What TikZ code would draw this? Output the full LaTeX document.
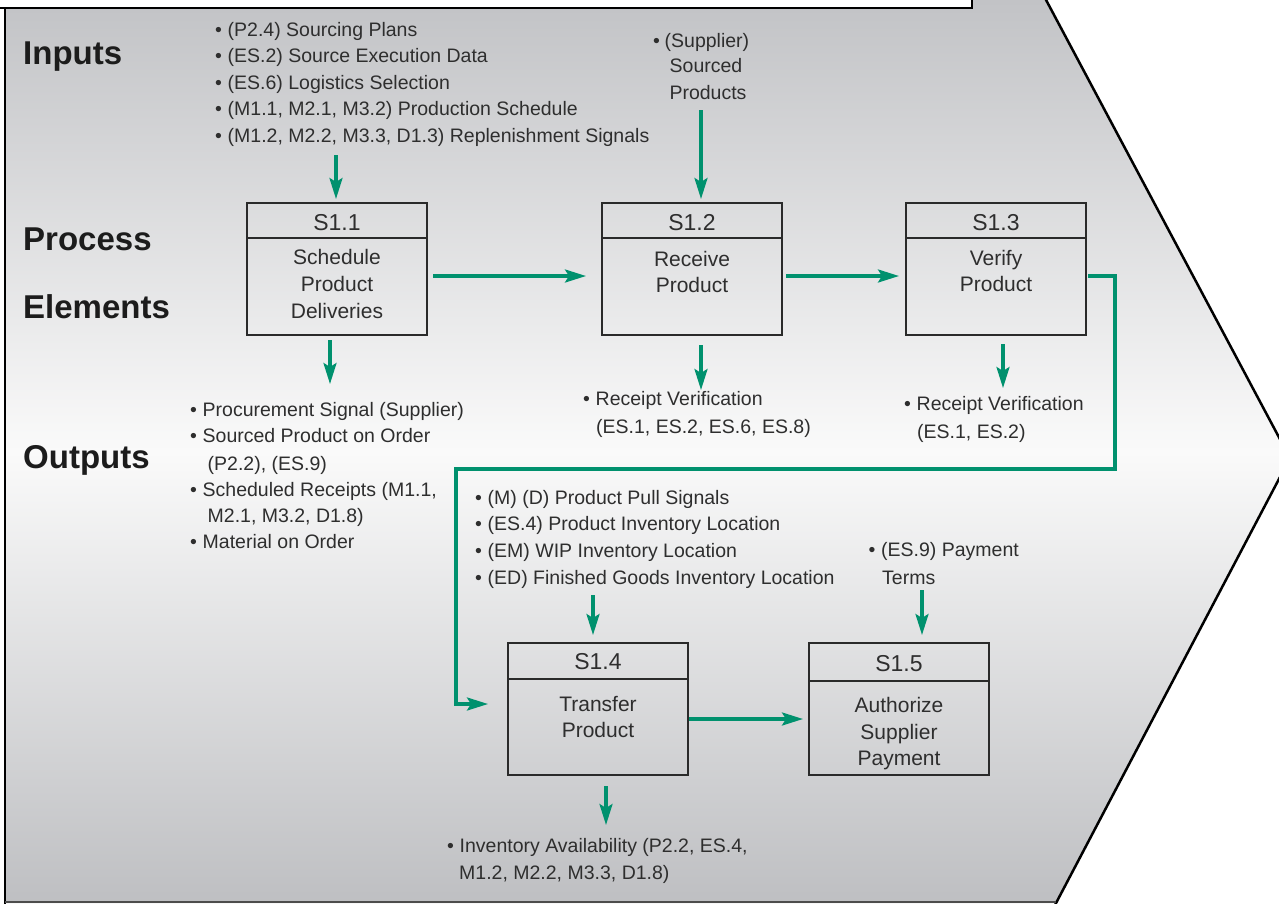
\documentclass[tikz,border=0pt]{standalone}
\usepackage{fontspec}
\setmainfont{Liberation Sans}
\usetikzlibrary{arrows.meta,calc}
\definecolor{sgreen}{HTML}{00916E}
\definecolor{txt}{HTML}{2E2E2E}
\definecolor{headc}{HTML}{1C1C1C}
\definecolor{boxc}{HTML}{2A2A2A}
\definecolor{bgtop}{HTML}{C2C3C6}
\definecolor{bgmid}{HTML}{FAFAFA}
\definecolor{bgbot}{HTML}{BEBFC2}
\newcommand{\bul}{\makebox[12.5pt][l]{\textbullet}}
\begin{document}
\begin{tikzpicture}[x=1pt,y=-1pt,
  flow/.style={draw=sgreen, line width=3.2pt, -{Stealth[length=21pt,width=13pt,inset=4pt]}},
  boxframe/.style={draw=boxc, line width=2.6pt, minimum width=180pt, minimum height=132pt, inner sep=0pt, outer sep=0pt, anchor=north west},
  divline/.style={draw=boxc, line width=2.6pt},
  head/.style={font=\fontsize{33}{38}\selectfont\bfseries, text=headc, anchor=base west, inner sep=0pt},
  lt/.style={font=\fontsize{19.5}{26}\selectfont, text=txt, anchor=base west, inner sep=0pt},
  ltc/.style={font=\fontsize{19.5}{26}\selectfont, text=txt, anchor=base, inner sep=0pt},
  hdr/.style={font=\fontsize{23}{28}\selectfont, text=txt, anchor=base, inner sep=0pt},
  bod/.style={font=\fontsize{21}{27}\selectfont, text=txt, anchor=base, inner sep=0pt}]
\useasboundingbox (0,0) rectangle (1279,903);
% background chevron
\shade[top color=bgtop, bottom color=bgbot, middle color=bgmid]
  (5,0) -- (1045,0) -- (1290,458) -- (1055,903) -- (5,903) -- cycle;
\draw[line width=2.5pt, black] (5,8) -- (5,904);
\draw[line width=2.5pt, black] (1045,-2) -- (1290,458) -- (1055,905);
\draw[line width=2pt, black!70] (5,902) -- (1056,902);
\draw[fill=white, draw=black, line width=2pt] (-3,-3) rectangle (972,8);

% headings
\node[head] (hin) at (23,64) {Inputs};
\node[head] (hpr) at (23,250) {Process};
\node[head] (hel) at (23,318) {Elements};
\node[head] (hout) at (23,468) {Outputs};

% boxes
\node[boxframe] (b11) at (247,203) {};
\node[boxframe] (b12) at (602,203) {};
\node[boxframe] (b13) at (906,203) {};
\node[boxframe] (b14) at (508,643) {};
\node[boxframe] (b15) at (809,643) {};
\draw[divline] ([yshift=-35pt]b11.north west) -- ([yshift=-35pt]b11.north east);
\draw[divline] ([yshift=-35pt]b12.north west) -- ([yshift=-35pt]b12.north east);
\draw[divline] ([yshift=-35pt]b13.north west) -- ([yshift=-35pt]b13.north east);
\draw[divline] ([yshift=-36pt]b14.north west) -- ([yshift=-36pt]b14.north east);
\draw[divline] ([yshift=-38pt]b15.north west) -- ([yshift=-38pt]b15.north east);

\node[hdr] (h11) at (337,230) {S1.1};
\node[hdr] (h12) at (692,230) {S1.2};
\node[hdr] (h13) at (996,230) {S1.3};
\node[hdr] (h14) at (598,669) {S1.4};
\node[hdr] (h15) at (899,671.5) {S1.5};

\node[bod] (t11a) at (337,264) {Schedule};
\node[bod] (t11b) at (337,291) {Product};
\node[bod] (t11c) at (337,318) {Deliveries};
\node[bod] (t12a) at (692,266) {Receive};
\node[bod] (t12b) at (692,292.5) {Product};
\node[bod] (t13a) at (996,265) {Verify};
\node[bod] (t13b) at (996,291.5) {Product};
\node[bod] (t14a) at (598,711) {Transfer};
\node[bod] (t14b) at (598,737.5) {Product};
\node[bod] (t15a) at (899,712) {Authorize};
\node[bod] (t15b) at (899,739) {Supplier};
\node[bod] (t15c) at (899,765.5) {Payment};

% inputs S1.1
\node[lt] (i1) at (215,36.5) {\bul(P2.4) Sourcing Plans};
\node[lt] (i2) at (215,62.9) {\bul(ES.2) Source Execution Data};
\node[lt] (i3) at (215,89.3) {\bul(ES.6) Logistics Selection};
\node[lt] (i4) at (215,115.7) {\bul(M1.1, M2.1, M3.2) Production Schedule};
\node[lt] (i5) at (215,142.1) {\bul(M1.2, M2.2, M3.3, D1.3) Replenishment Signals};
% inputs S1.2
\node[lt] (s1) at (653,47) {\makebox[11.5pt][l]{\textbullet}(Supplier)};
\node[ltc] (s2) at (706,72) {Sourced};
\node[ltc] (s3) at (708,99) {Products};
% outputs S1.1
\node[lt] (o1) at (190,416) {\bul Procurement Signal (Supplier)};
\node[lt] (o2) at (190,442.7) {\bul Sourced Product on Order};
\node[lt] (o3) at (207.5,470) {(P2.2), (ES.9)};
\node[lt] (o4) at (190,496) {\bul Scheduled Receipts (M1.1,};
\node[lt] (o5) at (207.5,522) {M2.1, M3.2, D1.8)};
\node[lt] (o6) at (190,548) {\bul Material on Order};
% outputs S1.2
\node[lt] (p1) at (583,405) {\bul Receipt Verification};
\node[lt] (p2) at (596,433) {(ES.1, ES.2, ES.6, ES.8)};
% outputs S1.3
\node[lt] (q1) at (904,410) {\bul Receipt Verification};
\node[lt] (q2) at (917,438) {(ES.1, ES.2)};
% inputs S1.4
\node[lt] (u1) at (475,504) {\bul(M) (D) Product Pull Signals};
\node[lt] (u2) at (475,530.7) {\bul(ES.4) Product Inventory Location};
\node[lt] (u3) at (475,557.5) {\bul(EM) WIP Inventory Location};
\node[lt] (u4) at (475,584) {\bul(ED) Finished Goods Inventory Location};
% inputs S1.5
\node[lt] (v1) at (868.5,556) {\bul(ES.9) Payment};
\node[lt] (v2) at (882,584) {Terms};
% outputs S1.4
\node[lt] (w1) at (447,852) {\bul Inventory Availability (P2.2, ES.4,};
\node[lt] (w2) at (459,879) {M1.2, M2.2, M3.3, D1.8)};

% connector free ends
\coordinate (a11in) at (336,155);
\coordinate (a12in) at (701,110);
\coordinate (a11out) at (330,384);
\coordinate (a12out) at (701,390);
\coordinate (a13out) at (1003,388);
\coordinate (a14in) at (593,595);
\coordinate (a15in) at (922,590);
\coordinate (a14out) at (606,825);
\coordinate (r1) at (1115,469);
\coordinate (r2) at (456,704);

% connectors
\draw[flow] (a11in) -- ($(a11in |- b11.north)+(0,-4)$);
\draw[flow] (a12in) -- ($(a12in |- b12.north)+(0,-4)$);
\draw[flow] ($(b11.east)+(6,7)$) -- ($(b12.west)+(-16,7)$);
\draw[flow] ($(b12.east)+(4,7)$) -- ($(b13.west)+(-7,7)$);
\draw[flow] ($(b13.east)+(2,7)$) -| (r1) -| (r2) -- ($(b14.west)+(-20,-5)$);
\draw[flow] ($(b14.east)+(1,10)$) -- ($(b15.west)+(-6,10)$);
\draw[flow] ($(a11out |- b11.south)+(0,5)$) -- (a11out);
\draw[flow] ($(a12out |- b12.south)+(0,10)$) -- (a12out);
\draw[flow] ($(a13out |- b13.south)+(0,9)$) -- (a13out);
\draw[flow] (a14in) -- ($(a14in |- b14.north)+(0,-8)$);
\draw[flow] (a15in) -- ($(a15in |- b15.north)+(0,-8)$);
\draw[flow] ($(a14out |- b14.south)+(0,11)$) -- (a14out);
\end{tikzpicture}
\end{document}
